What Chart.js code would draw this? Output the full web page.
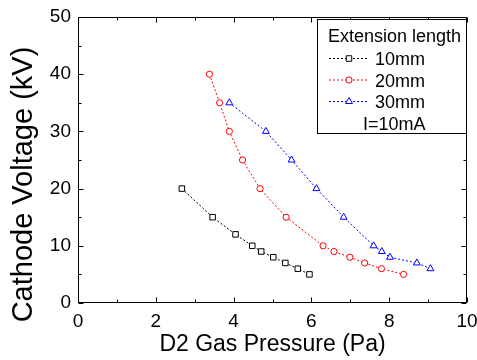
<!DOCTYPE html>
<html>
<head>
<meta charset="utf-8">
<script src="https://cdn.jsdelivr.net/npm/chart.js@4/dist/chart.umd.min.js"></script>
<style>
  html, body { margin: 0; padding: 0; background: #fff; }
  #wrap { width: 477px; height: 360px; }
</style>
</head>
<body>
<div id="wrap"><canvas id="c" width="477" height="360"></canvas></div>
<script>
// ---- data ----
const pressure10 = [2.67, 3.46, 4.05, 4.48, 4.71, 5.02, 5.33, 5.65, 5.95];
const voltage10  = [20, 15, 12, 10, 9, 8, 7, 6, 5];
const pressure20 = [3.38, 3.64, 3.89, 4.23, 4.68, 5.35, 6.30, 6.58, 6.99, 7.37, 7.80, 8.37];
const voltage20  = [40, 35, 30, 25, 20, 15, 10, 9, 8, 7, 6, 5];
const pressure30 = [3.89, 4.83, 5.49, 6.13, 6.83, 7.60, 7.81, 8.02, 8.71, 9.06];
const voltage30  = [35, 30, 25, 20, 15, 10, 9, 8, 7, 6];
const seriesLabels = ['10mm', '20mm', '30mm'];
const legendTitle = 'Extension length';
const legendNote = 'I=10mA';
const xTitle = 'D2 Gas Pressure (Pa)';
const yTitle = 'Cathode Voltage (kV)';
const xRange = [0, 10], xStep = 2, xMinorStep = 1;
const yRange = [0, 50], yStep = 10, yMinorStep = 5;

const FONT = '"Liberation Sans", Arial, Helvetica, sans-serif';

function pts(xs, ys) { return xs.map((x, i) => ({ x: x, y: ys[i] })); }

const datasets = [
  { label: seriesLabels[0], data: pts(pressure10, voltage10), borderColor: '#000000',
    pointStyle: 'rect', pointRadius: 3.9 },
  { label: seriesLabels[1], data: pts(pressure20, voltage20), borderColor: '#ff0000',
    pointStyle: 'circle', pointRadius: 3.1 },
  { label: seriesLabels[2], data: pts(pressure30, voltage30), borderColor: '#0000ff',
    pointStyle: 'triangle', pointRadius: 4 }
].map(d => Object.assign(d, {
  showLine: true, borderWidth: 1, borderDash: [2, 2], backgroundColor: 'rgba(0,0,0,0)',
  pointBackgroundColor: '#ffffff', pointBorderColor: d.borderColor, pointBorderWidth: 1,
  pointHoverRadius: d.pointRadius, tension: 0
}));

const framePlugin = {
  id: 'frame',
  beforeDatasetsDraw(chart) {
    const ctx = chart.ctx, a = chart.chartArea;
    const xs = chart.scales.x, ys = chart.scales.y;
    const L = Math.round(a.left) + 0.5, R = Math.round(a.right) - 0.5;
    const T = Math.round(a.top) + 0.5, B = Math.round(a.bottom) - 0.5;
    ctx.save();
    ctx.strokeStyle = '#000'; ctx.lineWidth = 1;
    ctx.beginPath();
    ctx.rect(L, T, R - L, B - T);
    for (let v = xRange[0]; v <= xRange[1] + 1e-9; v += xMinorStep) {
      const major = Math.abs(v / xStep - Math.round(v / xStep)) < 1e-6;
      const len = major ? 5 : 3;
      const px = Math.round(xs.getPixelForValue(v)) + 0.5;
      ctx.moveTo(px, B); ctx.lineTo(px, B - len);
      ctx.moveTo(px, T); ctx.lineTo(px, T + len);
    }
    for (let v = yRange[0]; v <= yRange[1] + 1e-9; v += yMinorStep) {
      const major = Math.abs(v / yStep - Math.round(v / yStep)) < 1e-6;
      const len = major ? 5 : 3;
      const py = Math.round(ys.getPixelForValue(v)) + 0.5;
      ctx.moveTo(L, py); ctx.lineTo(L + len, py);
      ctx.moveTo(R, py); ctx.lineTo(R - len, py);
    }
    ctx.stroke();
    ctx.fillStyle = '#000';
    ctx.font = '29px ' + FONT;
    ctx.textAlign = 'center';
    ctx.textBaseline = 'alphabetic';
    ctx.translate(31.5, 184.5);
    ctx.rotate(-Math.PI / 2);
    ctx.fillText(yTitle, 0, 0);
    ctx.restore();
  },
  afterDraw(chart) {
    const ctx = chart.ctx;
    const bx = 317.5, by = 19.5, bw = 149, bh = 114;
    ctx.save();
    ctx.fillStyle = '#fff';
    ctx.fillRect(bx, by, bw, bh);
    ctx.strokeStyle = '#000'; ctx.lineWidth = 1;
    ctx.strokeRect(bx, by, bw, bh);
    ctx.fillStyle = '#000';
    ctx.font = '18px ' + FONT;
    ctx.textAlign = 'left';
    ctx.textBaseline = 'alphabetic';
    ctx.fillText(legendTitle, 328, 41.7);
    const rowY = [58.5, 80, 101.5];
    const baseY = [64.7, 86.5, 108.3];
    chart.data.datasets.forEach((ds, i) => {
      ctx.save();
      ctx.strokeStyle = ds.borderColor; ctx.lineWidth = 1;
      ctx.setLineDash([2, 2]);
      ctx.beginPath();
      ctx.moveTo(329, rowY[i]); ctx.lineTo(367, rowY[i]);
      ctx.stroke();
      ctx.setLineDash([]);
      ctx.fillStyle = '#fff';
      ctx.strokeStyle = ds.borderColor;
      Chart.helpers.drawPoint(ctx, { pointStyle: ds.pointStyle, radius: ds.pointRadius, rotation: 0, borderWidth: 1 }, 349, rowY[i]);
      ctx.restore();
      ctx.fillText(ds.label, 375, baseY[i]);
    });
    ctx.fillText(legendNote, 363, 130);
    ctx.restore();
  }
};

new Chart(document.getElementById('c'), {
  type: 'scatter',
  data: { datasets: datasets },
  plugins: [framePlugin],
  options: {
    responsive: false,
    devicePixelRatio: 1,
    animation: false,
    layout: { padding: { top: 17, right: 10, left: 0, bottom: 0 } },
    plugins: { legend: { display: false }, tooltip: { enabled: false }, title: { display: false } },
    scales: {
      x: {
        type: 'linear', min: xRange[0], max: xRange[1],
        grid: { display: false, drawTicks: false }, border: { display: false },
        ticks: { stepSize: xStep, color: '#000', font: { family: FONT, size: 19 }, padding: 7, maxRotation: 0 },
        title: { display: true, text: xTitle, color: '#000', font: { family: FONT, size: 23 }, padding: { top: 0, bottom: 2 } },
        afterFit(s) { s.height = 57; s.paddingLeft = 0; s.paddingRight = 0; }
      },
      y: {
        type: 'linear', min: yRange[0], max: yRange[1],
        grid: { display: false, drawTicks: false }, border: { display: false },
        ticks: { stepSize: yStep, color: '#000', font: { family: FONT, size: 19 }, padding: 7 },
        afterFit(s) { s.width = 78; s.paddingTop = 0; s.paddingBottom = 0; }
      }
    }
  }
});
</script>
</body>
</html>
